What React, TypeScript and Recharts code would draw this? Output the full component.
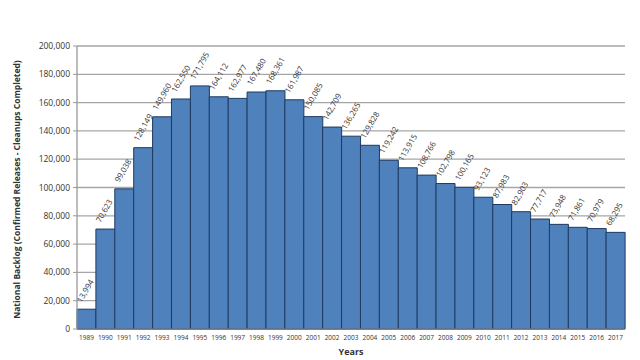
import React from "react";
import { BarChart, Bar, XAxis, YAxis, CartesianGrid, LabelList } from "recharts";

const years = [
  "1989", "1990", "1991", "1992", "1993", "1994", "1995", "1996", "1997", "1998",
  "1999", "2000", "2001", "2002", "2003", "2004", "2005", "2006", "2007", "2008",
  "2009", "2010", "2011", "2012", "2013", "2014", "2015", "2016", "2017",
];

const backlog = [
  13994, 70623, 99038, 128149, 149960, 162550, 171795, 164112, 162977, 167480,
  168361, 161987, 150085, 142709, 136265, 129828, 119242, 113915, 108766, 102798,
  100165, 93123, 87983, 82903, 77717, 73948, 71861, 70979, 68295,
];

const yTicks = [0, 20000, 40000, 60000, 80000, 100000, 120000, 140000, 160000, 180000, 200000];

const data = years.map((year, i) => ({ year, backlog: backlog[i] }));

const FONT = "'Open Sans', 'DejaVu Sans', sans-serif";

const fmt = (v: number) => v.toLocaleString("en-US");

// rotated value label sitting just above each bar
const BarValue = (props: any) => {
  const { x, y, width, value } = props;
  const lx = x + width / 2 - 5;
  const ly = y - 6;
  return (
    <text
      x={lx}
      y={ly}
      transform={`rotate(-60 ${lx} ${ly})`}
      fontSize={8}
      fill="#333"
      fontFamily={FONT}
      textAnchor="start"
    >
      {fmt(value)}
    </text>
  );
};

export default function App() {
  return (
    <div style={{ position: "absolute", left: 0, top: 0, width: 640, height: 360, background: "#fff" }}>
      <BarChart
        width={640}
        height={360}
        data={data}
        margin={{ top: 46, right: 15, left: 0, bottom: 0 }}
        barCategoryGap={0}
      >
        <CartesianGrid horizontal vertical={false} stroke="#a6a6a6" strokeWidth={1.3} />
        <XAxis
          dataKey="year"
          height={31}
          interval={0}
          tickLine={false}
          axisLine={{ stroke: "#888" }}
          tick={{ fontSize: 6.5, fill: "#333", fontFamily: FONT }}
          tickMargin={0}
          label={({ viewBox }: any) => (
            <text
              x={viewBox.x + viewBox.width / 2}
              y={355}
              textAnchor="middle"
              fontSize={9}
              fontWeight="bold"
              fill="#333"
              fontFamily={FONT}
            >
              Years
            </text>
          )}
        />
        <YAxis
          width={77}
          domain={[0, 200000]}
          ticks={yTicks}
          interval={0}
          tickFormatter={fmt}
          axisLine={{ stroke: "#999", strokeWidth: 1.3 }}
          tickLine={{ stroke: "#999" }}
          tickSize={4}
          tickMargin={3}
          tick={{ fontSize: 8.5, fill: "#333", fontFamily: FONT }}
          label={({ viewBox }: any) => {
            const cy = viewBox.y + viewBox.height / 2 + 2;
            return (
              <text
                x={20}
                y={cy}
                transform={`rotate(-90 20 ${cy})`}
                textAnchor="middle"
                fontSize={8.5}
                fontWeight="bold"
                fill="#333"
                fontFamily={FONT}
              >
                National Backlog (Confirmed Releases - Cleanups Completed)
              </text>
            );
          }}
        />
        <Bar dataKey="backlog" fill="#4f81bd" stroke="#1f3a60" strokeWidth={1} isAnimationActive={false}>
          <LabelList dataKey="backlog" content={<BarValue />} />
        </Bar>
      </BarChart>
    </div>
  );
}
